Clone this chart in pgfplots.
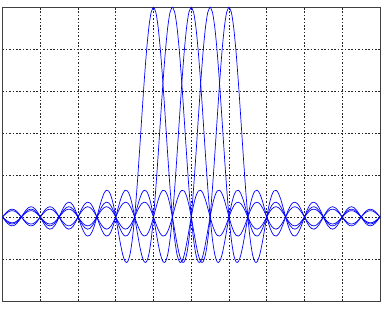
\documentclass[border=0pt]{standalone}
\usepackage{pgfplots}
\usepackage{pgfplotstable}
\pgfplotsset{compat=1.18}
\pgfplotstableread{
t s
0 1
0.125 0.9745
0.25 0.9003
0.375 0.7842
0.5 0.6366
0.625 0.4705
0.75 0.3001
0.875 0.1392
1 0
1.125 -0.1083
1.25 -0.1801
1.375 -0.2139
1.5 -0.2122
1.625 -0.1810
1.75 -0.1286
1.875 -0.0650
2 0
2.125 0.0573
2.25 0.1000
2.375 0.1238
2.5 0.1273
2.625 0.1120
2.75 0.0818
2.875 0.0424
3 0
3.125 -0.0390
3.25 -0.0693
3.375 -0.0871
3.5 -0.0909
3.625 -0.0811
3.75 -0.0600
3.875 -0.0314
4 0
4.125 0.0295
4.25 0.0530
4.375 0.0672
4.5 0.0707
4.625 0.0636
4.75 0.0474
4.875 0.0250
5 0
5.125 -0.0238
5.25 -0.0429
5.375 -0.0547
5.5 -0.0579
5.625 -0.0523
5.75 -0.0391
5.875 -0.0207
6 0
6.125 0.0199
6.25 0.0360
6.375 0.0461
6.5 0.0490
6.625 0.0444
6.75 0.0333
6.875 0.0177
7 0
7.125 -0.0171
7.25 -0.0310
7.375 -0.0399
7.5 -0.0424
7.625 -0.0386
7.75 -0.0290
7.875 -0.0155
8 0
8.125 0.0150
8.25 0.0273
8.375 0.0351
8.5 0.0374
8.625 0.0341
8.75 0.0257
8.875 0.0137
9 0
9.125 -0.0133
9.25 -0.0243
9.375 -0.0314
9.5 -0.0335
9.625 -0.0306
9.75 -0.0231
9.875 -0.0123
10 0
10.125 0.0120
10.25 0.0220
10.375 0.0283
10.5 0.0303
10.625 0.0277
10.75 0.0209
10.875 0.0112
11 0
11.125 -0.0109
11.25 -0.0200
11.375 -0.0259
11.5 -0.0277
11.625 -0.0253
11.75 -0.0192
11.875 -0.0103
12 0
}\sinc
\begin{document}
\begin{tikzpicture}
\begin{axis}[
  at={(0,0)}, anchor=south west,
  scale only axis,
  width=377.5bp, height=294bp,
  xmin=0, xmax=20, ymin=-0.4, ymax=1,
  xtick={0,2,4,6,8,10,12,14,16,18,20},
  ytick={-0.4,-0.2,0,0.2,0.4,0.6,0.8,1},
  xticklabels={}, yticklabels={},
  tick style={draw=none},
  grid=major,
  major grid style={black!85, line width=0.8pt, dash pattern=on 1.6pt off 1.8pt},
  axis line style={black!75, line width=0.9pt},
]
\foreach \k in {8,9,10,11,12}{
  \addplot[blue, line width=0.7pt, smooth] table[x expr={\k+\thisrow{t}}, y=s] {\sinc};
  \addplot[blue, line width=0.7pt, smooth] table[x expr={\k-\thisrow{t}}, y=s] {\sinc};
}
\end{axis}
\pgfresetboundingbox
\path (-2.5bp,-8bp) rectangle (384.5bp,301bp);
\end{tikzpicture}
\end{document}
